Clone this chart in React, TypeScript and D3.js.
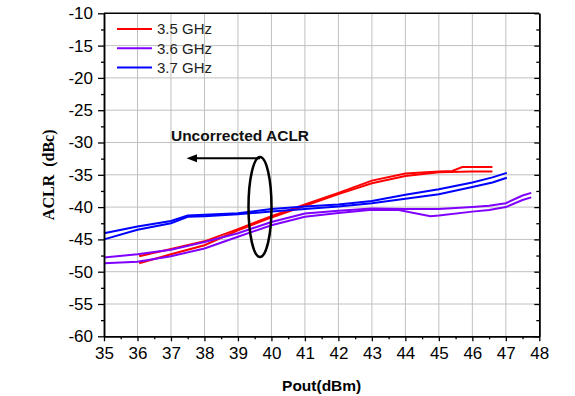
import React, { useRef, useEffect } from 'react';
import * as d3 from 'd3';

// series values: [Pout dBm, ACLR dBc]
const red1: [number, number][] = [[36.05, -47.6], [37, -46.5], [38, -45.3], [39, -43.4], [40, -41.4], [41, -39.6], [42, -37.8], [43, -35.9], [44, -34.8], [45, -34.5], [45.4, -34.4], [45.7, -33.8], [46.6, -33.8]];
const red2: [number, number][] = [[36.05, -48.7], [37, -47.3], [38, -45.9], [39, -43.6], [40, -41.6], [41, -39.8], [42, -38.0], [43, -36.3], [44, -35.2], [45, -34.6], [46, -34.5], [46.6, -34.5]];
const purple1: [number, number][] = [[35, -47.8], [36, -47.3], [37, -46.6], [38, -45.4], [39, -44.05], [40, -42.3], [41, -41.0], [42, -40.55], [43, -40.2], [44, -40.3], [45, -40.3], [46, -40.0], [46.5, -39.8], [47, -39.4], [47.5, -38.2], [47.76, -37.8]];
const purple2: [number, number][] = [[35, -48.7], [36, -48.45], [37, -47.6], [38, -46.4], [39, -44.6], [40, -42.8], [41, -41.5], [42, -40.9], [43, -40.4], [43.8, -40.45], [44.75, -41.4], [45, -41.3], [46, -40.7], [46.5, -40.45], [47, -40.0], [47.5, -38.9], [47.76, -38.5]];
const blue1: [number, number][] = [[35, -44.05], [36, -43.0], [37, -42.15], [37.5, -41.3], [38, -41.2], [39, -40.95], [40, -40.3], [41, -39.9], [42, -39.6], [43, -39.05], [44, -38.1], [45, -37.25], [46, -36.2], [46.6, -35.4], [47.03, -34.7]];
const blue2: [number, number][] = [[35, -45.0], [36, -43.5], [37, -42.5], [37.5, -41.5], [38, -41.4], [39, -41.1], [40, -40.7], [41, -40.3], [42, -39.9], [43, -39.4], [44, -38.7], [45, -38.0], [46, -36.9], [46.6, -36.2], [47.03, -35.45]];

const legendNames = ['3.5 GHz', '3.6 GHz', '3.7 GHz'];
const colors = ['#ff0000', '#8000ff', '#0000ff'];
const xTicks = d3.range(35, 49, 1);
const yTicks = d3.range(-60, -5, 5);

const App: React.FC = () => {
  const ref = useRef<SVGSVGElement>(null);

  useEffect(() => {
    const svg = d3.select(ref.current);
    svg.selectAll('*').remove();

    const left = 104, right = 539.3, top = 13.3, bottom = 336.3;
    const x = d3.scaleLinear().domain([35, 48]).range([left, right]);
    const y = d3.scaleLinear().domain([-60, -10]).range([bottom, top]);
    const font = 'Arial, "Liberation Sans", sans-serif';

    // grid
    const grid = svg.append('g').attr('stroke', '#c0c0c0').attr('stroke-width', 1);
    grid.selectAll('.gx').data(xTicks.slice(1, -1)).enter().append('line')
      .attr('x1', d => x(d)).attr('x2', d => x(d)).attr('y1', top).attr('y2', bottom);
    grid.selectAll('.gy').data(yTicks.slice(1, -1)).enter().append('line')
      .attr('x1', left).attr('x2', right).attr('y1', d => y(d)).attr('y2', d => y(d));

    // data lines
    const line = d3.line<[number, number]>().x(d => x(d[0])).y(d => y(d[1]));
    const series = [
      { data: red1, c: colors[0] }, { data: red2, c: colors[0] },
      { data: purple1, c: colors[1] }, { data: purple2, c: colors[1] },
      { data: blue1, c: colors[2] }, { data: blue2, c: colors[2] },
    ];
    series.forEach(s => {
      svg.append('path').datum(s.data).attr('d', line)
        .attr('fill', 'none').attr('stroke', s.c).attr('stroke-width', 2);
    });

    // axes
    const styleAxis = (g: d3.Selection<SVGGElement, unknown, null, undefined>) => {
      g.selectAll('path').attr('stroke', '#000').attr('stroke-width', 1.5);
      g.selectAll('line').attr('stroke', '#000').attr('stroke-width', 1.3);
      g.selectAll('text').attr('font-family', font).attr('font-size', 17).attr('fill', '#000');
    };
    const minorX = d3.range(35.5, 48, 1);
    const minorY = d3.range(-57.5, -10, 5);

    svg.append('g').attr('transform', `translate(0,${bottom})`)
      .call(d3.axisBottom(x).tickValues(minorX).tickSize(3).tickFormat(() => '').tickSizeOuter(0))
      .call(styleAxis);
    svg.append('g').attr('transform', `translate(0,${bottom})`)
      .call(d3.axisBottom(x).tickValues(xTicks).tickSize(5).tickPadding(6).tickFormat(d3.format('d')).tickSizeOuter(0))
      .call(styleAxis);

    svg.append('g').attr('transform', `translate(${left},0)`)
      .call(d3.axisLeft(y).tickValues(minorY).tickSize(3).tickFormat(() => '').tickSizeOuter(0))
      .call(styleAxis);
    svg.append('g').attr('transform', `translate(${left},0)`)
      .call(d3.axisLeft(y).tickValues(yTicks).tickSize(6).tickPadding(5).tickFormat(d => String(d).replace('−', '-')).tickSizeOuter(0))
      .call(styleAxis);

    svg.append('g').attr('transform', `translate(${right},0)`)
      .call(d3.axisLeft(y).tickValues(minorY).tickSize(3).tickFormat(() => '').tickSizeOuter(0))
      .call(styleAxis);
    svg.append('g').attr('transform', `translate(${right},0)`)
      .call(d3.axisLeft(y).tickValues(yTicks).tickSize(5).tickFormat(() => '').tickSizeOuter(0))
      .call(styleAxis);

    svg.append('line').attr('x1', left).attr('x2', right).attr('y1', top).attr('y2', top)
      .attr('stroke', '#000').attr('stroke-width', 1.5);

    // titles
    svg.append('text').attr('x', (left + right) / 2).attr('y', 391)
      .attr('text-anchor', 'middle').attr('font-family', font).attr('font-weight', 'bold')
      .attr('font-size', 15.5).text('Pout(dBm)');
    svg.append('text').attr('transform', `translate(54,${(top + bottom) / 2}) rotate(-90)`)
      .attr('text-anchor', 'middle').attr('font-family', '"Times New Roman", "Liberation Serif", serif')
      .attr('font-weight', 'bold').attr('font-size', 16)
      .style('white-space', 'pre').text('ACLR  (dBc)');

    // legend
    const lg = svg.append('g');
    legendNames.forEach((name, i) => {
      const ly = 29 + i * 19.2;
      lg.append('line').attr('x1', 117).attr('x2', 152).attr('y1', ly).attr('y2', ly)
        .attr('stroke', colors[i]).attr('stroke-width', 2);
      lg.append('text').attr('x', 157).attr('y', ly + 5.3).attr('font-family', font)
        .attr('font-size', 15).attr('fill', '#222').text(name);
    });

    // annotation
    svg.append('text').attr('x', 240).attr('y', 140.7).attr('text-anchor', 'middle')
      .attr('font-family', font).attr('font-weight', 'bold').attr('font-size', 15.5)
      .attr('fill', '#111').text('Uncorrected ACLR');
    svg.append('line').attr('x1', 196).attr('x2', 260).attr('y1', 158.3).attr('y2', 158.3)
      .attr('stroke', '#000').attr('stroke-width', 2);
    svg.append('path').attr('d', 'M186.5,158.3 L197,154.3 L197,162.3 Z').attr('fill', '#000');
    svg.append('ellipse').attr('cx', 260).attr('cy', 207).attr('rx', 11.5).attr('ry', 50)
      .attr('fill', 'none').attr('stroke', '#000').attr('stroke-width', 2.5);
  }, []);

  return (
    <svg ref={ref} width={575} height={396}
      style={{ position: 'absolute', left: 0, top: 0, background: '#fff' }} />
  );
};

export default App;
